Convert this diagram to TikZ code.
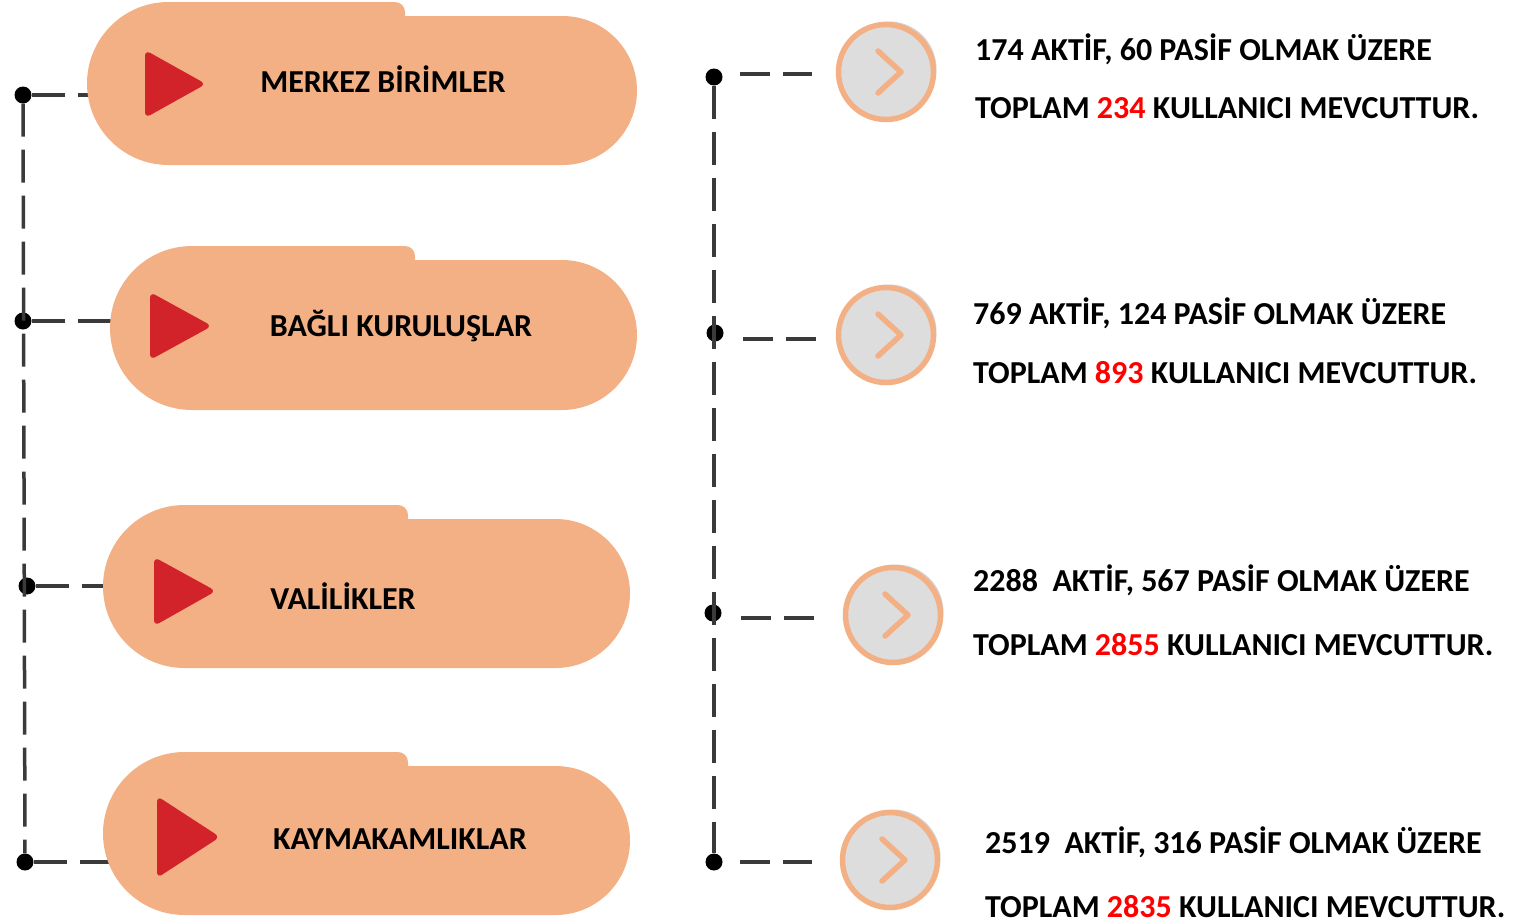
\documentclass[tikz,border=0pt]{standalone}
\usepackage{fontspec}
\setmainfont{Carlito}
\usetikzlibrary{shadows}
\definecolor{peche}{HTML}{F3B084}
\definecolor{rouge}{HTML}{D3232A}
\definecolor{gris}{HTML}{DDDDDD}
\definecolor{trait}{HTML}{3A3A3A}
\begin{document}
\begin{tikzpicture}[x=1pt,y=-1pt]
\tikzset{tiret/.style={draw=trait, line width=3.5pt, dash pattern=on 33pt off 13pt},
  tiretcourt/.style={draw=trait, line width=3.5pt, dash pattern=on 30pt off 13pt},
  point/.style={circle, fill=black, inner sep=0pt, minimum size=17pt},
  rond/.style={circle, draw=peche, line width=5.5pt, fill=gris, minimum size=95pt, inner sep=0pt,
    drop shadow={shadow xshift=3pt, shadow yshift=3pt, fill=black!18, opacity=1}},
  chevron/.style={draw=peche, line width=5.5pt, line cap=round, line join=round},
  pastille/.style={fill=peche},
  lecteur/.style={fill=rouge, rounded corners=6pt},
  titre/.style={font=\fontsize{32}{38}\selectfont\bfseries, anchor=base},
  texte/.style={font=\fontsize{32}{38}\selectfont\bfseries, anchor=base west, inner sep=0pt}}
\useasboundingbox (0,0) rectangle (1516,924);
\node[point] (g1) at (23,95) {};
\node[point] (g2) at (23,321) {};
\node[point] (g3) at (27,586) {};
\node[point] (g4) at (25,862) {};
\coordinate (b1) at (100,95);
\coordinate (b2) at (125,321);
\coordinate (b3) at (120,586);
\coordinate (b4) at (120,862);
\draw[tiret] (g1) -- (g4);
\draw[tiret] (g1) -- (b1);
\draw[tiret] (g2) -- (b2);
\draw[tiret] (g3) -- (b3);
\draw[tiret] (g4) -- (b4);
\node[point] (d1) at (714,77) {};
\node[point] (d2) at (715,333) {};
\node[point] (d3) at (713,613) {};
\node[point] (d4) at (714,862) {};
\coordinate (h1a) at (740,74);
\coordinate (h1b) at (812,74);
\coordinate (h2a) at (743,339);
\coordinate (h2b) at (816,339);
\coordinate (h3a) at (741,618);
\coordinate (h3b) at (815,618);
\coordinate (h4a) at (740,862);
\coordinate (h4b) at (812,862);
\draw[tiret] (d1) -- (d4);
\draw[tiretcourt] (h1a) -- (h1b);
\draw[tiretcourt] (h2a) -- (h2b);
\draw[tiretcourt] (h3a) -- (h3b);
\draw[tiretcourt] (h4a) -- (h4b);
\fill[pastille] (168.5,165) arc[start angle=90, end angle=270, radius=81.5] -- (395,2)
  arc[start angle=270, end angle=360, radius=10] -- (405,16) -- (562.5,16)
  arc[start angle=270, end angle=450, radius=74.5] -- cycle;
\fill[pastille] (192,410) arc[start angle=90, end angle=270, radius=82] -- (405,246)
  arc[start angle=270, end angle=360, radius=10] -- (415,260) -- (562,260)
  arc[start angle=270, end angle=450, radius=75] -- cycle;
\fill[pastille] (184.5,668) arc[start angle=90, end angle=270, radius=81.5] -- (398,505)
  arc[start angle=270, end angle=360, radius=10] -- (408,519) -- (555.5,519)
  arc[start angle=270, end angle=450, radius=74.5] -- cycle;
\fill[pastille] (184.5,915) arc[start angle=90, end angle=270, radius=81.5] -- (398,752)
  arc[start angle=270, end angle=360, radius=10] -- (408,766) -- (555.5,766)
  arc[start angle=270, end angle=450, radius=74.5] -- cycle;
\fill[lecteur] (145,50) -- (145,118) -- (206,84) -- cycle;
\fill[lecteur] (150,292) -- (150,360) -- (212,326) -- cycle;
\fill[lecteur] (154,557) -- (154,626) -- (216,591) -- cycle;
\fill[lecteur] (157,796) -- (157,878) -- (220,837) -- cycle;
\node[titre] (e1) at (383,92) {MERKEZ BİRİMLER};
\node[titre] (e2) at (401,336) {BAĞLI KURULUŞLAR};
\node[titre] (e3) at (343,609) {VALİLİKLER};
\node[titre] (e4) at (400,849) {KAYMAKAMLIKLAR};
\node[rond] (c1) at (886,72) {};
\node[rond] (c2) at (886,335) {};
\node[rond] (c3) at (893,615) {};
\node[rond] (c4) at (890,860) {};
\draw[chevron] ([shift={(-8,-21)}]c1.center) -- ([shift={(15,0)}]c1.center) -- ([shift={(-8,21)}]c1.center);
\draw[chevron] ([shift={(-8,-21)}]c2.center) -- ([shift={(15,0)}]c2.center) -- ([shift={(-8,21)}]c2.center);
\draw[chevron] ([shift={(-8,-21)}]c3.center) -- ([shift={(15,0)}]c3.center) -- ([shift={(-8,21)}]c3.center);
\draw[chevron] ([shift={(-8,-21)}]c4.center) -- ([shift={(15,0)}]c4.center) -- ([shift={(-8,21)}]c4.center);
\node[texte] (t1a) at (975,60) {174 AKTİF, 60 PASİF OLMAK ÜZERE};
\node[texte] (t1b) at (975,118) {TOPLAM \textcolor{red}{234} KULLANICI MEVCUTTUR.};
\node[texte] (t2a) at (973,324) {769 AKTİF, 124 PASİF OLMAK ÜZERE};
\node[texte] (t2b) at (973,383) {TOPLAM \textcolor{red}{893} KULLANICI MEVCUTTUR.};
\node[texte] (t3a) at (973,591) {2288~ AKTİF, 567 PASİF OLMAK ÜZERE};
\node[texte] (t3b) at (973,655) {TOPLAM \textcolor{red}{2855} KULLANICI MEVCUTTUR.};
\node[texte] (t4a) at (985,853) {2519~ AKTİF, 316 PASİF OLMAK ÜZERE};
\node[texte] (t4b) at (985,917) {TOPLAM \textcolor{red}{2835} KULLANICI MEVCUTTUR.};
\end{tikzpicture}
\end{document}
